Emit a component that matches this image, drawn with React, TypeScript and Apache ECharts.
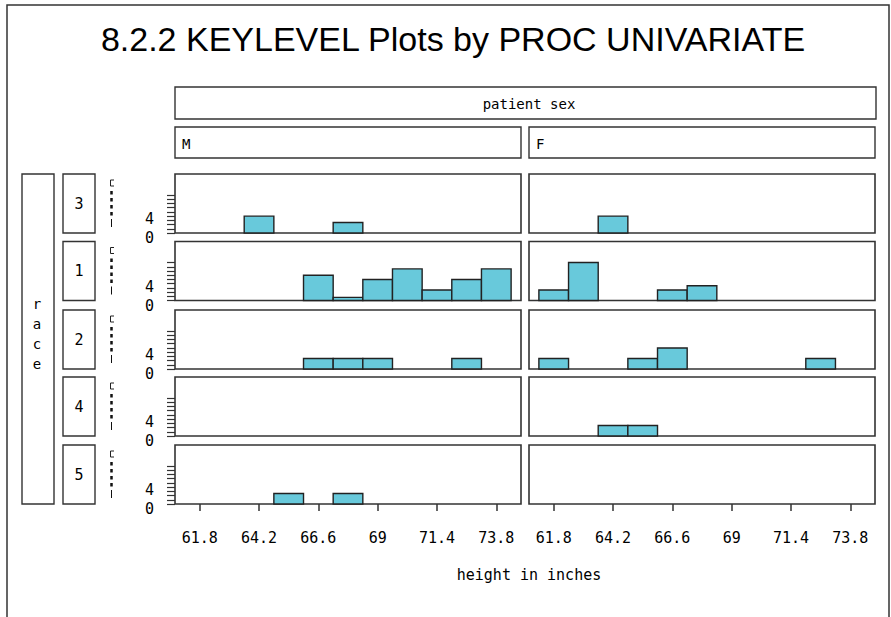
import React, { useEffect, useRef } from "react";
import * as echarts from "echarts";

// ---- data ----
const TITLE = "8.2.2 KEYLEVEL Plots by PROC UNIVARIATE";
const COL_VAR = "patient sex";
const ROW_VAR = "race";
const X_NAME = "height in inches";
const SEX_LEVELS = ["M", "F"];
const RACE_LEVELS = ["3", "1", "2", "4", "5"];
const BIN_WIDTH = 1.2;
const X_MIN = 60.8;
const X_MAX = 74.8;
const X_TICKS = [61.8, 64.2, 66.6, 69, 71.4, 73.8];
const Y_MAX = 56;
const Y_TICKS = [0, 4, 8, 12, 16, 20, 24, 28, 32, 36];
const Y_LABELS = [0, 4];

// [bin midpoint, percent]
const race3M = [[64.2, 16], [67.8, 10]];
const race3F = [[64.2, 16]];
const race1M = [[66.6, 24], [67.8, 3], [69.0, 20], [70.2, 30], [71.4, 10], [72.6, 20], [73.8, 30]];
const race1F = [[61.8, 10], [63.0, 36], [66.6, 10], [67.8, 14]];
const race2M = [[66.6, 10], [67.8, 10], [69.0, 10], [72.6, 10]];
const race2F = [[61.8, 10], [65.4, 10], [66.6, 20], [72.6, 10]];
const race4M: number[][] = [];
const race4F = [[64.2, 10], [65.4, 10]];
const race5M = [[65.4, 10], [67.8, 10]];
const race5F: number[][] = [];

const CELLS = [
  [race3M, race3F],
  [race1M, race1F],
  [race2M, race2F],
  [race4M, race4F],
  [race5M, race5F],
];

// ---- layout ----
const COL_LEFT = [175, 529];
const PANEL_W = 346;
const ROW_TOP = [174, 241.5, 310, 377, 445];
const PANEL_H = 59;
const MONO = "'DejaVu Sans Mono', monospace";
const DARK = "#333";

export default function App() {
  const ref = useRef<HTMLDivElement>(null);
  useEffect(() => {
    if (!ref.current) return;
    const chart = echarts.init(ref.current, null, { renderer: "svg" });

    const grids: any[] = [];
    const xAxes: any[] = [];
    const yAxes: any[] = [];
    const series: any[] = [];
    let idx = 0;
    RACE_LEVELS.forEach((_, r) => {
      SEX_LEVELS.forEach((__, c) => {
        const bottomRow = r === RACE_LEVELS.length - 1;
        const leftCol = c === 0;
        grids.push({
          left: COL_LEFT[c],
          top: ROW_TOP[r],
          width: PANEL_W,
          height: PANEL_H,
          show: true,
          borderColor: DARK,
          borderWidth: 1.6,
          backgroundColor: "transparent",
          containLabel: false,
          outerBoundsMode: "none",
        });
        xAxes.push({
          type: "value",
          gridIndex: idx,
          min: X_MIN,
          max: X_MAX,
          show: bottomRow,
          splitLine: { show: false },
          axisLine: { show: false },
          axisTick: {
            show: true,
            inside: false,
            length: 7,
            customValues: X_TICKS,
            lineStyle: { color: DARK, width: 1.5 },
          },
          axisLabel: {
            show: true,
            customValues: X_TICKS,
            margin: 26,
            color: "#000",
            fontFamily: MONO,
            fontSize: 15,
            formatter: (v: number) => String(v),
          },
        });
        yAxes.push({
          type: "value",
          gridIndex: idx,
          min: 0,
          max: Y_MAX,
          show: leftCol,
          splitLine: { show: false },
          axisLine: { show: false },
          axisTick: {
            show: true,
            inside: false,
            length: 8,
            customValues: Y_TICKS,
            lineStyle: { color: DARK, width: 1.2 },
          },
          axisLabel: {
            show: true,
            customValues: Y_LABELS,
            margin: 21,
            color: "#000",
            fontFamily: MONO,
            fontSize: 15,
            formatter: (v: number) => (v === 0 ? `{z|${v}}` : `{f|${v}}`),
            rich: {
              z: { fontFamily: MONO, fontSize: 15, color: "#000", padding: [10, 0, 0, 0] },
              f: { fontFamily: MONO, fontSize: 15, color: "#000", padding: [0, 0, 19, 0] },
            },
          },
        });
        series.push({
          type: "custom",
          xAxisIndex: idx,
          yAxisIndex: idx,
          data: CELLS[r][c],
          encode: { x: 0, y: 1 },
          renderItem: (_p: any, api: any) => {
            const mid = api.value(0);
            const h = api.value(1);
            const p0 = api.coord([mid - BIN_WIDTH / 2, h]);
            const p1 = api.coord([mid + BIN_WIDTH / 2, 0]);
            return {
              type: "rect",
              shape: { x: p0[0], y: p0[1], width: p1[0] - p0[0], height: p1[1] - p0[1] },
              style: { fill: "#68C9DB", stroke: "#222", lineWidth: 1.4 },
            };
          },
        });
        idx++;
      });
    });

    const graphics: any[] = [];
    // outer frame
    graphics.push({
      type: "rect",
      shape: { x: 7, y: 5, width: 882, height: 700 },
      style: { fill: "none", stroke: DARK, lineWidth: 1.5 },
      silent: true,
    });
    // column header boxes
    graphics.push({
      type: "rect",
      shape: { x: 175, y: 87, width: 701, height: 32 },
      style: { fill: "none", stroke: DARK, lineWidth: 1.4 },
    });
    graphics.push({
      type: "text",
      x: 529,
      y: 104,
      style: { text: COL_VAR, fill: "#000", font: `14px ${MONO}`, textAlign: "center", textVerticalAlign: "middle" },
    });
    SEX_LEVELS.forEach((s, c) => {
      graphics.push({
        type: "rect",
        shape: { x: COL_LEFT[c], y: 127, width: PANEL_W, height: 31 },
        style: { fill: "none", stroke: DARK, lineWidth: 1.4 },
      });
      graphics.push({
        type: "text",
        x: COL_LEFT[c] + 7,
        y: 144,
        style: { text: s, fill: "#000", font: `14px ${MONO}`, textAlign: "left", textVerticalAlign: "middle" },
      });
    });
    // row header boxes
    const rowsTop = ROW_TOP[0];
    const rowsBottom = ROW_TOP[ROW_TOP.length - 1] + PANEL_H;
    graphics.push({
      type: "rect",
      shape: { x: 22, y: rowsTop, width: 32, height: rowsBottom - rowsTop },
      style: { fill: "none", stroke: DARK, lineWidth: 1.4 },
    });
    graphics.push({
      type: "text",
      x: 37,
      y: 334,
      style: {
        text: ROW_VAR.split("").join("\n"),
        fill: "#000",
        font: `14px ${MONO}`,
        lineHeight: 20,
        textAlign: "center",
        textVerticalAlign: "middle",
      },
    });
    RACE_LEVELS.forEach((lv, r) => {
      const t = ROW_TOP[r];
      graphics.push({
        type: "rect",
        shape: { x: 63, y: t, width: 32, height: PANEL_H },
        style: { fill: "none", stroke: DARK, lineWidth: 1.4 },
      });
      graphics.push({
        type: "text",
        x: 79,
        y: t + PANEL_H / 2,
        style: { text: lv, fill: "#000", font: `15px ${MONO}`, textAlign: "center", textVerticalAlign: "middle" },
      });
      // garbled rotated axis label glyph
      graphics.push({
        type: "polyline",
        shape: { points: [[114, t + 6], [110.5, t + 6], [110.5, t + 12], [114, t + 12]] },
        style: { fill: "none", stroke: "#222", lineWidth: 1 },
      });
      graphics.push({
        type: "line",
        shape: { x1: 111.5, y1: t + 17, x2: 111.5, y2: t + 42 },
        style: { stroke: "#111", lineWidth: 2.5, lineDash: [3.5, 3.5] },
      });
      graphics.push({
        type: "line",
        shape: { x1: 111.5, y1: t + 45, x2: 111.5, y2: t + 53 },
        style: { stroke: "#111", lineWidth: 1 },
      });
    });

    chart.setOption({
      animation: false,
      backgroundColor: "#fff",
      title: [
        {
          text: TITLE,
          left: 448,
          top: 17,
          textAlign: "center",
          textStyle: { fontFamily: "'Liberation Sans', Arial, sans-serif", fontSize: 34, fontWeight: "normal", color: "#000" },
        },
        {
          text: X_NAME,
          left: 524,
          top: 562,
          textAlign: "center",
          textStyle: { fontFamily: MONO, fontSize: 15, fontWeight: "normal", color: "#000" },
        },
      ],
      grid: grids,
      xAxis: xAxes,
      yAxis: yAxes,
      series,
      graphic: graphics,
    });
    return () => chart.dispose();
  }, []);
  return (
    <div
      ref={ref}
      style={{ position: "fixed", left: 0, top: 0, width: 891, height: 617, background: "#fff" }}
    />
  );
}
